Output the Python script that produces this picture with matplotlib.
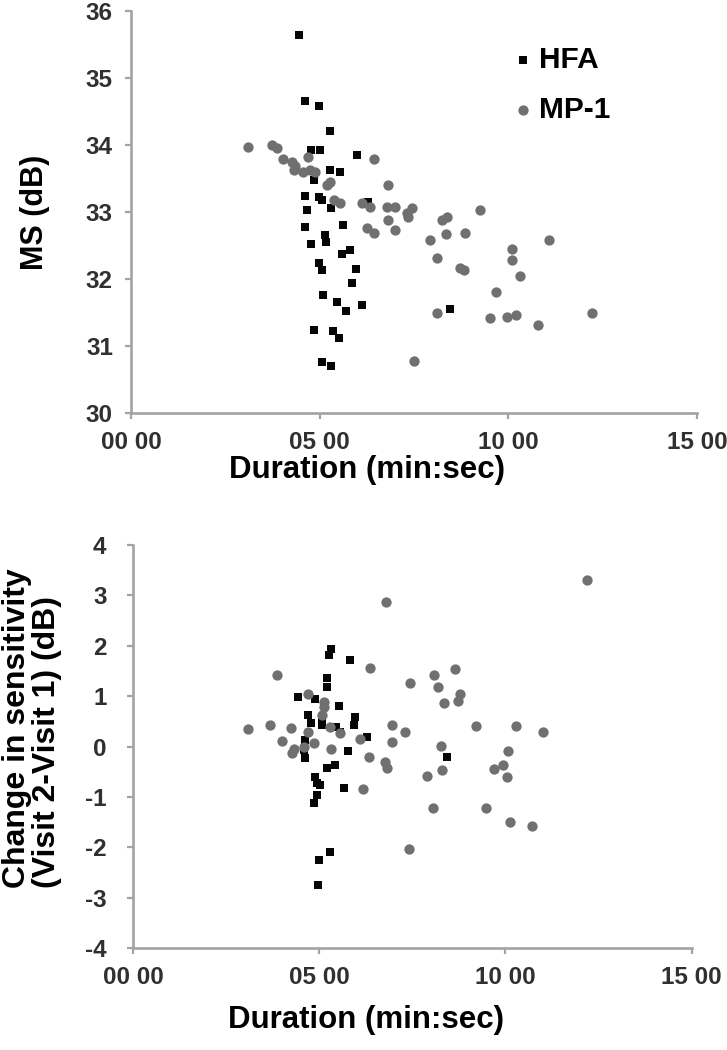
import matplotlib
matplotlib.use("Agg")
import matplotlib.pyplot as plt

# ---------------- data ----------------
x_ticks = [0, 5, 10, 15]
x_tick_labels = ["00 00", "05 00", "10 00", "15 00"]
top_y_ticks = [30, 31, 32, 33, 34, 35, 36]
bottom_y_ticks = [-4, -3, -2, -1, 0, 1, 2, 3, 4]

# Top panel: HFA (duration in minutes, MS in dB)
hfa_top_x = [4.46, 4.61, 4.97, 5.27, 4.76, 5.02, 5.99, 5.27, 5.54, 4.84, 4.62, 4.98, 5.06,
             5.29, 4.67, 6.29, 4.62, 5.62, 5.13, 5.16, 4.77, 5.58, 5.81, 4.98, 5.05, 5.97,
             5.87, 5.08, 5.47, 5.70, 6.12, 4.84, 5.35, 5.52, 5.05, 5.31, 8.46]
hfa_top_y = [35.64, 34.66, 34.58, 34.20, 33.93, 33.93, 33.85, 33.63, 33.60, 33.48, 33.24, 33.22,
             33.18, 33.06, 33.03, 33.15, 32.78, 32.81, 32.66, 32.56, 32.53, 32.38, 32.43, 32.24,
             32.14, 32.15, 31.94, 31.76, 31.66, 31.52, 31.61, 31.24, 31.23, 31.12, 30.77, 30.71,
             31.55]

# Top panel: MP-1
mp1_top_x = [3.10, 3.73, 3.86, 4.02, 4.26, 4.35, 4.31, 4.57, 4.75, 4.88, 6.43, 4.70, 6.82,
             5.19, 5.28, 5.37, 5.54, 6.12, 6.78, 7.00, 7.45, 7.32, 7.35, 8.38, 8.24, 9.24,
             7.93, 8.36, 8.84, 11.07, 10.11, 10.11, 8.11, 8.71, 8.82, 10.32, 9.66, 8.11, 9.52,
             9.97, 10.19, 10.79, 12.22, 7.49, 6.34, 6.82, 7.00, 6.25, 6.43]
mp1_top_y = [33.97, 34.00, 33.95, 33.79, 33.75, 33.68, 33.63, 33.60, 33.63, 33.59, 33.79, 33.82,
             33.40, 33.40, 33.45, 33.18, 33.14, 33.14, 33.08, 33.08, 33.06, 32.98, 32.93, 32.93,
             32.88, 33.03, 32.58, 32.67, 32.68, 32.58, 32.45, 32.28, 32.31, 32.16, 32.13, 32.05,
             31.81, 31.49, 31.42, 31.43, 31.47, 31.31, 31.49, 30.78, 33.08, 32.88, 32.73, 32.76,
             32.68]

# Bottom panel: HFA (duration in minutes, change in sensitivity dB)
hfa_bot_x = [5.31, 5.25, 5.83, 5.22, 5.22, 4.44, 4.89, 5.54, 4.71, 4.78, 5.07, 5.07, 5.97,
             5.92, 5.46, 5.56, 6.28, 4.62, 4.58, 4.62, 5.76, 5.41, 5.22, 4.89, 4.94, 5.03,
             5.67, 4.95, 4.85, 5.00, 5.30, 4.97, 8.43]
hfa_bot_y = [1.94, 1.81, 1.71, 1.35, 1.18, 0.99, 0.95, 0.81, 0.62, 0.47, 0.59, 0.43, 0.59,
             0.43, 0.39, 0.29, 0.19, 0.13, -0.07, -0.23, -0.08, -0.37, -0.43, -0.60, -0.73,
             -0.76, -0.83, -0.96, -1.12, -2.25, -2.10, -2.75, -0.21]

# Bottom panel: MP-1
mp1_bot_x = [6.79, 3.86, 6.37, 7.43, 4.70, 5.12, 5.13, 5.07, 3.08, 3.68, 4.24, 5.28, 5.55,
             6.95, 7.29, 4.71, 4.00, 4.31, 4.28, 4.58, 4.85, 5.31, 6.10, 6.95, 6.34, 6.77,
             6.81, 6.17, 12.20, 8.64, 8.09, 8.18, 8.79, 8.73, 8.34, 9.21, 10.27, 11.01, 8.28,
             10.06, 9.93, 9.68, 10.04, 8.30, 7.88, 8.06, 9.49, 10.13, 10.70, 7.42]
mp1_bot_y = [2.86, 1.42, 1.56, 1.27, 1.05, 0.89, 0.79, 0.62, 0.35, 0.43, 0.36, 0.39, 0.26,
             0.43, 0.29, 0.29, 0.10, -0.04, -0.13, 0.00, 0.06, -0.05, 0.14, 0.08, -0.20, -0.30,
             -0.43, -0.85, 3.31, 1.53, 1.42, 1.18, 1.05, 0.91, 0.86, 0.41, 0.41, 0.29, 0.01,
             -0.08, -0.37, -0.45, -0.61, -0.47, -0.58, -1.22, -1.22, -1.50, -1.58, -2.03]

series_labels = ["HFA", "MP-1"]

# ---------------- figure ----------------
W, H, DPI = 727, 1050, 100
plt.rcParams['font.family'] = ['Liberation Sans', 'DejaVu Sans']
plt.rcParams['font.weight'] = 'bold'

fig = plt.figure(figsize=(W / DPI, H / DPI), dpi=DPI)
fig.patch.set_facecolor('white')


def px_axes(l, t, r, b):
    return fig.add_axes([l / W, 1 - b / H, (r - l) / W, (b - t) / H])


AXIS_GRAY = '#a3a3a3'
TICK_TXT = '#303030'
HFA_COLOR = '#050505'
MP1_COLOR = '#707070'


def style(ax, yticks, ypad):
    for s in ('top', 'right'):
        ax.spines[s].set_visible(False)
    for s in ('left', 'bottom'):
        ax.spines[s].set_color(AXIS_GRAY)
        ax.spines[s].set_linewidth(1.9)
    ax.set_xlim(0, 15)
    ax.set_ylim(yticks[0], yticks[-1])
    ax.set_xticks(x_ticks, x_tick_labels)
    ax.set_yticks(yticks, [str(v) for v in yticks])
    ax.tick_params(axis='both', direction='out', length=4, width=1.6, color=AXIS_GRAY,
                   labelsize=17.5, labelcolor=TICK_TXT)
    ax.tick_params(axis='x', pad=9)
    ax.tick_params(axis='y', pad=ypad)
    for lab in ax.get_xticklabels() + ax.get_yticklabels():
        lab.set_fontweight('bold')


ax1 = px_axes(131, 10.7, 697, 413.3)
ax2 = px_axes(133, 545, 691.7, 948)

for ax, hx, hy, mx, my, yt, yp in ((ax1, hfa_top_x, hfa_top_y, mp1_top_x, mp1_top_y, top_y_ticks, 9),
                                   (ax2, hfa_bot_x, hfa_bot_y, mp1_bot_x, mp1_bot_y, bottom_y_ticks, 15)):
    style(ax, yt, yp)
    ax.scatter(hx, hy, marker='s', s=30, color=HFA_COLOR, linewidths=0, label=series_labels[0],
               zorder=3, clip_on=False)
    ax.scatter(mx, my, marker='o', s=55, color=MP1_COLOR, linewidths=0, label=series_labels[1],
               zorder=4, clip_on=False)

leg = ax1.legend(loc='upper left', bbox_to_anchor=(515.5 / W, 1 - 46 / H),
                 bbox_transform=fig.transFigure, frameon=False, fontsize=21.5,
                 handlelength=0.5, handletextpad=0.3, labelspacing=0.72, borderpad=0,
                 borderaxespad=0)
for t in leg.get_texts():
    t.set_fontweight('bold')

# axis titles
fig.text(367 / W, 1 - 470 / H, "Duration (min:sec)", ha='center', va='center',
         fontsize=22.5, fontweight='bold', color='black')
fig.text(366 / W, 1 - 1020 / H, "Duration (min:sec)", ha='center', va='center',
         fontsize=22.5, fontweight='bold', color='black')
fig.text(35 / W, 1 - 212 / H, "MS (dB)", ha='center', va='center', rotation=90,
         fontsize=22, fontweight='bold', color='black')
fig.text(32 / W, 1 - 888 / H, "Change in sensitivity\n(Visit 2-Visit 1) (dB)", ha='center',
         va='bottom', rotation=90, multialignment='left', linespacing=1.0,
         fontsize=23, fontweight='bold', color='black')

fig.savefig("out.png", dpi=DPI, facecolor='white')
